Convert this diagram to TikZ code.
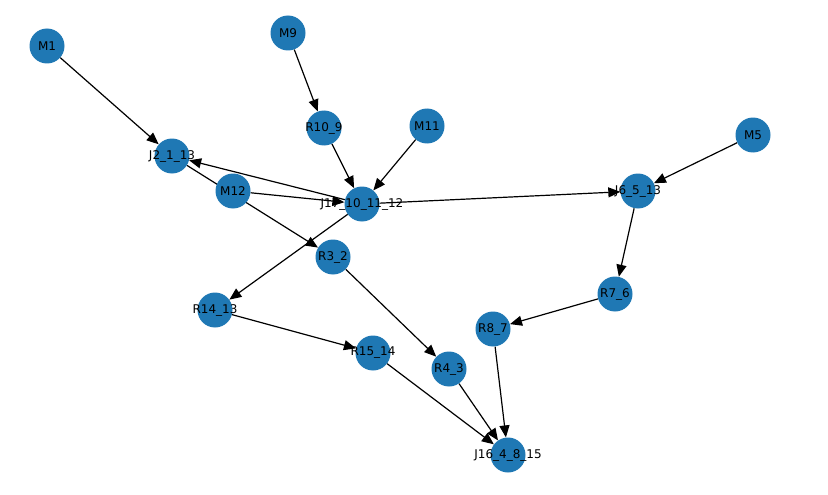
\documentclass[tikz,border=0pt]{standalone}
\usepackage{fontspec}
\setmainfont{DejaVu Sans}
\usetikzlibrary{arrows.meta}
\definecolor{nxblue}{HTML}{1F78B4}
\pgfdeclarelayer{bg}
\pgfsetlayers{bg,main}
\begin{document}
\begin{tikzpicture}[x=1pt,y=-1pt,
  vtx/.style={circle,fill=nxblue,minimum size=35pt,inner sep=0pt,
    font=\fontsize{12}{14}\selectfont,text=black},
  edge/.style={draw=black,line width=1.2pt,-{Triangle[length=12pt,width=10pt]}}]
\useasboundingbox (0,0) rectangle (828,495);
\node[vtx] (M1)  at (47,46)   {\makebox[0pt]{M1}};
\node[vtx] (M9)  at (288,33)  {\makebox[0pt]{M9}};
\node[vtx] (R10) at (324,128) {\makebox[0pt]{R10\_9}};
\node[vtx] (M11) at (427,126) {\makebox[0pt]{M11}};
\node[vtx] (M5)  at (753,135) {\makebox[0pt]{M5}};
\node[vtx] (J2)  at (172,156) {\makebox[0pt]{J2\_1\_13}};
\node[vtx] (M12) at (233,191) {\makebox[0pt]{M12}};
\node[vtx] (J17) at (362,204) {\makebox[0pt]{J17\_10\_11\_12}};
\node[vtx] (J6)  at (638,191) {\makebox[0pt]{J6\_5\_13}};
\node[vtx] (R3)  at (333,257) {\makebox[0pt]{R3\_2}};
\node[vtx] (R7)  at (615,294) {\makebox[0pt]{R7\_6}};
\node[vtx] (R14) at (215,310) {\makebox[0pt]{R14\_13}};
\node[vtx] (R8)  at (493,329) {\makebox[0pt]{R8\_7}};
\node[vtx] (R15) at (373,353) {\makebox[0pt]{R15\_14}};
\node[vtx] (R4)  at (449,369) {\makebox[0pt]{R4\_3}};
\node[vtx] (J16) at (508,455) {\makebox[0pt]{J16\_4\_8\_15}};
\begin{pgfonlayer}{bg}
\draw[edge] (M1) -- (J2);
\draw[edge] (M9) -- (R10);
\draw[edge] (R10) -- (J17);
\draw[edge] (M11) -- (J17);
\draw[edge] (M5) -- (J6);
\draw[edge] (J17) -- (J2);
\draw[edge] (M12) -- (J17);
\draw[edge] (J2) -- (R3);
\draw[edge] (J17) -- (J6);
\draw[edge] (J17) -- (R14);
\draw[edge] (J6) -- (R7);
\draw[edge] (R7) -- (R8);
\draw[edge] (R3) -- (R4);
\draw[edge] (R14) -- (R15);
\draw[edge] (R15) -- (J16);
\draw[edge] (R4) -- (J16);
\draw[edge] (R8) -- (J16);
\end{pgfonlayer}
\end{tikzpicture}
\end{document}
